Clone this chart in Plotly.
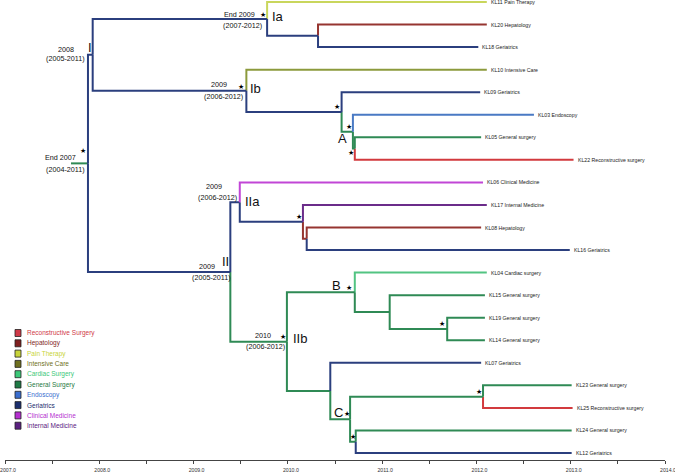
import plotly.graph_objects as go

# ---------------- data ----------------
tip_names = ["KL11", "KL20", "KL18", "KL10", "KL09", "KL03", "KL05", "KL22",
             "KL06", "KL17", "KL08", "KL16", "KL04", "KL15", "KL19", "KL14",
             "KL07", "KL23", "KL25", "KL24", "KL12"]
tip_depts = ["Pain Therapy", "Hepatology", "Geriatrics", "Intensive Care", "Geriatrics",
             "Endoscopy", "General surgery", "Reconstructive surgery", "Clinical Medicine",
             "Internal Medicine", "Hepatology", "Geriatrics", "Cardiac surgery",
             "General surgery", "General surgery", "General surgery", "Geriatrics",
             "General surgery", "Reconstructive surgery", "General surgery", "Geriatrics"]
tip_years = [2012.11, 2012.11, 2012.02, 2012.11, 2012.04, 2012.61, 2012.05, 2013.03,
             2012.07, 2012.11, 2012.05, 2012.99, 2012.11, 2012.09, 2012.09, 2012.09,
             2012.05, 2013.01, 2013.02, 2013.01, 2013.01]
tip_states = ["Pain Therapy", "Hepatology", "Geriatrics", "Intensive Care", "Geriatrics",
              "Endoscopy", "General Surgery", "Reconstructive Surgery", "Clinical Medicine",
              "Internal Medicine", "Hepatology", "Geriatrics", "Cardiac Surgery",
              "General Surgery", "General Surgery", "General Surgery", "Geriatrics",
              "General Surgery", "Reconstructive Surgery", "General Surgery", "Geriatrics"]

node_names = ["root", "I", "Ia", "Ia1", "Ib", "Ib1", "A", "A1", "II", "IIa", "IIa1",
              "IIa2", "IIb", "B", "B1", "B2", "C0", "C", "C1", "C2"]
node_years = [2007.88, 2007.93, 2009.78, 2010.32, 2009.56, 2010.57, 2010.69, 2010.71,
              2009.39, 2009.49, 2010.16, 2010.20, 2009.99, 2010.71, 2011.08, 2011.69,
              2010.45, 2010.66, 2012.07, 2010.72]
node_children = [["I", "II"], ["Ia", "Ib"], ["KL11", "Ia1"], ["KL20", "KL18"],
                 ["KL10", "Ib1"], ["KL09", "A"], ["KL03", "A1"], ["KL05", "KL22"],
                 ["IIa", "IIb"], ["KL06", "IIa1"], ["KL17", "IIa2"], ["KL08", "KL16"],
                 ["B", "C0"], ["KL04", "B1"], ["KL15", "B2"], ["KL19", "KL14"],
                 ["KL07", "C"], ["C1", "C2"], ["KL23", "KL25"], ["KL24", "KL12"]]
node_states = ["General Surgery", "Geriatrics", "Geriatrics", "Geriatrics", "Geriatrics",
               "Geriatrics", "General Surgery", "General Surgery", "Geriatrics",
               "Geriatrics", "Geriatrics", "Hepatology", "General Surgery",
               "General Surgery", "General Surgery", "General Surgery", "General Surgery",
               "General Surgery", "General Surgery", "General Surgery"]
root_stub_year = 2007.70

node_dates = {"root": ["End 2007", "(2004-2011)"], "I": ["2008", "(2005-2011)"],
              "Ia": ["End 2009", "(2007-2012)"], "Ib": ["2009", "(2006-2012)"],
              "II": ["2009", "(2005-2011)"], "IIa": ["2009", "(2006-2012)"],
              "IIb": ["2010", "(2006-2012)"]}
clade_labels = {"I": "I", "Ia": "Ia", "Ib": "Ib", "II": "II", "IIa": "IIa",
                "IIb": "IIb", "A": "A", "B": "B", "C": "C"}
supported_nodes = ["root", "Ia", "Ib", "Ib1", "A", "A1", "IIa1", "IIb", "B", "B2",
                   "C", "C1", "C2"]

states = ["Reconstructive Surgery", "Hepatology", "Pain Therapy", "Intensive Care",
          "Cardiac Surgery", "General Surgery", "Endoscopy", "Geriatrics",
          "Clinical Medicine", "Internal Medicine"]
x_ticks = [2007, 2008, 2009, 2010, 2011, 2012, 2013, 2014]

# ---------------- styles ----------------
branch_colors = {"Reconstructive Surgery": "#d23a3e", "Hepatology": "#963530",
                 "Pain Therapy": "#c9d65c", "Intensive Care": "#8c9a3c",
                 "Cardiac Surgery": "#52c482", "General Surgery": "#2f8a55",
                 "Endoscopy": "#4a7ac4", "Geriatrics": "#2b3f7e",
                 "Clinical Medicine": "#c146d6", "Internal Medicine": "#6b2c8a"}
legend_colors = {"Reconstructive Surgery": "#d03a48", "Hepatology": "#7f1f1f",
                 "Pain Therapy": "#c8d43a", "Intensive Care": "#6f7020",
                 "Cardiac Surgery": "#3cc878", "General Surgery": "#1f7a45",
                 "Endoscopy": "#3a6ecf", "Geriatrics": "#1c2f6e",
                 "Clinical Medicine": "#b52fd0", "Internal Medicine": "#5a2080"}
FONT = "Liberation Sans, Arial, sans-serif"

# pixel offsets (dx right, dy down) relative to node
date_offsets = {"root": [(-10, -6), (-1, 6)], "I": [(-17, -5), (-6, 4)],
                "Ia": [(-10, -4), (-3, 7)], "Ib": [(-17, -6), (-1, 6)],
                "II": [(-13, -5), (3, 6)], "IIa": [(-16, -16), (-1, -5)],
                "IIb": [(-14, -6), (0, 5)]}
clade_offsets = {"I": (-3, -7, "center"), "Ia": (3, -2, "left"), "Ib": (2, -2, "left"),
                 "II": (-5, -10, "center"), "IIa": (3, -1, "left"),
                 "IIb": (4, -3, "left"), "A": (-10, 7, "center"),
                 "B": (-18, -7, "center"), "C": (-12, -7, "center")}
star_offsets = {"root": (-5, -12), "Ia": (-4, -4), "Ib": (-5, -4), "Ib1": (-5, -5),
                "A": (-4, -5), "A1": (-4, 4), "IIa1": (-4, -5), "IIb": (-4, -5),
                "B": (-6, -4), "B2": (-5, -5), "C": (-3, -5), "C1": (-4, -5),
                "C2": (-3, -5)}

# ---------------- tree layout ----------------
years = dict(zip(tip_names, tip_years))
years.update(zip(node_names, node_years))
state_of = dict(zip(tip_names, tip_states))
state_of.update(zip(node_names, node_states))
children = dict(zip(node_names, node_children))
ypos = {n: i for i, n in enumerate(tip_names)}


def get_y(n):
    if n not in ypos:
        ypos[n] = sum(get_y(c) for c in children[n]) / len(children[n])
    return ypos[n]


get_y("root")

segs = {s: ([], []) for s in states}
for p in node_names:
    for c in children[p]:
        xs, ys = segs[state_of[c]]
        xs += [years[p], years[p], years[c], None]
        ys += [ypos[p], ypos[c], ypos[c], None]
xs, ys = segs[state_of["root"]]
xs += [root_stub_year, years["root"], None]
ys += [ypos["root"], ypos["root"], None]

fig = go.Figure()
for s in states:
    xs, ys = segs[s]
    if not xs:
        continue
    fig.add_trace(go.Scatter(x=xs, y=ys, mode="lines", cliponaxis=False,
                             line=dict(color=branch_colors[s], width=2),
                             hoverinfo="skip", showlegend=False))

annotations = []
for n, yr in zip(tip_names, tip_years):
    annotations.append(dict(x=yr, y=ypos[n], xref="x", yref="y",
                            text=f"{n} {tip_depts[tip_names.index(n)]}",
                            showarrow=False, xanchor="left", yanchor="middle",
                            xshift=2, font=dict(size=5.2, color="#222", family=FONT)))


def node_ann(node, text, dx, dy, size, anchor):
    annotations.append(dict(x=years[node], y=ypos[node], xref="x", yref="y", text=text,
                            showarrow=False, xanchor=anchor, yanchor="middle",
                            xshift=dx, yshift=-dy,
                            font=dict(size=size, color="#111", family=FONT)))


for n, lines in node_dates.items():
    for txt, (dx, dy) in zip(lines, date_offsets[n]):
        node_ann(n, txt, dx, dy, 7.2, "right")
for n, lab in clade_labels.items():
    dx, dy, anc = clade_offsets[n]
    node_ann(n, lab, dx, dy, 13, anc)
for n in supported_nodes:
    dx, dy = star_offsets[n]
    annotations.append(dict(x=years[n], y=ypos[n], xref="x", yref="y", text="★",
                            showarrow=False, xanchor="center", yanchor="middle",
                            xshift=dx, yshift=-dy,
                            font=dict(size=7, color="#000", family="DejaVu Sans")))

# ---------------- legend (pixel -> paper) ----------------
PX0, PW, PH = 5, 660, 460
shapes = []
for i, s in enumerate(states):
    cy = 333 + i * 10.3
    shapes.append(dict(type="rect", xref="paper", yref="paper",
                       x0=(15 - PX0) / PW, x1=(21 - PX0) / PW,
                       y0=(PH - (cy + 3.5)) / PH, y1=(PH - (cy - 3.5)) / PH,
                       fillcolor=legend_colors[s], line=dict(color="#222", width=0.8)))
    annotations.append(dict(x=(25 - PX0) / PW, y=(PH - cy) / PH, xref="paper", yref="paper",
                            text=s, showarrow=False, xanchor="left", yanchor="middle",
                            font=dict(size=6.5, color=legend_colors[s], family=FONT)))

fig.update_layout(
    width=675, height=473, margin=dict(l=5, r=10, t=0, b=13, autoexpand=False),
    paper_bgcolor="white", plot_bgcolor="white",
    annotations=annotations, shapes=shapes,
    xaxis=dict(range=[2007, 2014], tickvals=x_ticks,
               ticktext=[f"{v:.1f}" for v in x_ticks], ticks="outside", ticklen=3,
               tickcolor="#444", showline=True, linecolor="#444", linewidth=1,
               showgrid=False, zeroline=False, ticklabeloverflow="allow",
               ticklabelstandoff=2, ticklabelshift=3,
               minor=dict(dtick=0.5, ticks="outside", ticklen=3, tickcolor="#444"),
               tickfont=dict(size=5.2, color="#333", family=FONT), automargin=False),
    yaxis=dict(range=[20 + 7 / 22.55, -2 / 22.55], visible=False, automargin=False),
)
fig.write_html("out.html", config={"displayModeBar": False},
               post_script="document.body.style.margin='0';document.body.style.overflow='hidden';")
